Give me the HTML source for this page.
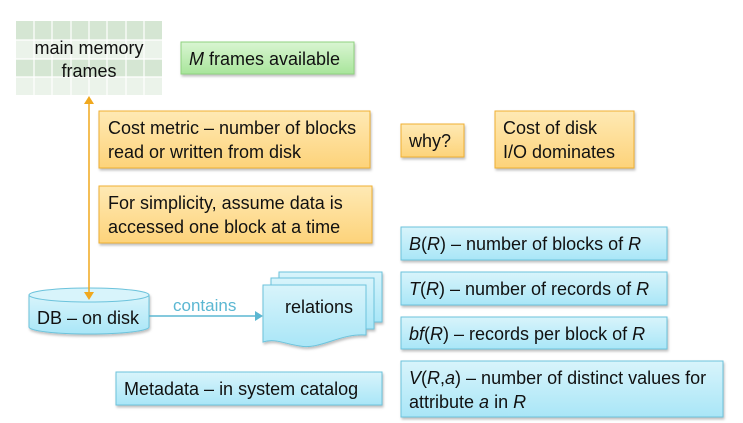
<!DOCTYPE html>
<html><head><meta charset="utf-8"><style>
html,body{margin:0;padding:0;background:#fff;}
svg{display:block;font-family:"Liberation Sans",sans-serif;}
</style></head><body>
<svg width="743" height="423" viewBox="0 0 743 423" xmlns="http://www.w3.org/2000/svg">
<defs>
<linearGradient id="g" x1="0" y1="0" x2="0" y2="1"><stop offset="0" stop-color="#d9f5d2"/><stop offset="1" stop-color="#a8e59b"/></linearGradient>
<linearGradient id="o" x1="0" y1="0" x2="0" y2="1"><stop offset="0" stop-color="#fee9b4"/><stop offset="1" stop-color="#fdd37a"/></linearGradient>
<linearGradient id="b" x1="0" y1="0" x2="0" y2="1"><stop offset="0" stop-color="#d8f4fb"/><stop offset="1" stop-color="#a9e6f7"/></linearGradient>
<filter id="s" x="-10%" y="-10%" width="130%" height="140%"><feDropShadow dx="1" dy="2" stdDeviation="1.2" flood-color="#000" flood-opacity="0.25"/></filter>
</defs>
<!-- grid -->
<g>
<rect x="16" y="21" width="146" height="19" fill="#d5e6d3"/>
<rect x="16" y="40" width="146" height="19" fill="#ebf3ea"/>
<rect x="16" y="59" width="146" height="18" fill="#d5e6d3"/>
<rect x="16" y="77" width="146" height="18" fill="#ebf3ea"/>
<g stroke="#fff" stroke-width="1.2">
<line x1="34" y1="21" x2="34" y2="95"/><line x1="52" y1="21" x2="52" y2="95"/><line x1="71" y1="21" x2="71" y2="95"/><line x1="89" y1="21" x2="89" y2="95"/><line x1="107" y1="21" x2="107" y2="95"/><line x1="126" y1="21" x2="126" y2="95"/><line x1="144" y1="21" x2="144" y2="95"/>
<line x1="16" y1="40" x2="162" y2="40"/><line x1="16" y1="59" x2="162" y2="59"/><line x1="16" y1="77" x2="162" y2="77"/>
</g>
<text x="89" y="54" font-size="18" text-anchor="middle" fill="#111">main memory</text>
<text x="89" y="77" font-size="18" text-anchor="middle" fill="#111">frames</text>
</g>
<!-- green -->
<rect x="181" y="42" width="173" height="32" fill="url(#g)" stroke="#8fd27f" filter="url(#s)"/>
<text x="189" y="65" font-size="18" fill="#111"><tspan font-style="italic">M</tspan> frames available</text>
<!-- orange -->
<g font-size="18" fill="#111">
<rect x="99" y="111" width="271" height="57" fill="url(#o)" stroke="#f0b030" filter="url(#s)"/>
<text x="108" y="134">Cost metric – number of blocks</text>
<text x="108" y="158">read or written from disk</text>
<rect x="401" y="124" width="63" height="33" fill="url(#o)" stroke="#f0b030" filter="url(#s)"/>
<text x="409" y="147">why?</text>
<rect x="495" y="111" width="139" height="57" fill="url(#o)" stroke="#f0b030" filter="url(#s)"/>
<text x="503" y="134">Cost of disk</text>
<text x="503" y="158">I/O dominates</text>
<rect x="99" y="186" width="273" height="57" fill="url(#o)" stroke="#f0b030" filter="url(#s)"/>
<text x="108" y="209">For simplicity, assume data is</text>
<text x="108" y="233">accessed one block at a time</text>
<!-- blue boxes -->
<rect x="401" y="227" width="266" height="33" fill="url(#b)" stroke="#6cc3dc" filter="url(#s)"/>
<text x="409" y="250"><tspan font-style="italic">B</tspan>(<tspan font-style="italic">R</tspan>) – number of blocks of <tspan font-style="italic">R</tspan></text>
<rect x="401" y="272" width="266" height="33" fill="url(#b)" stroke="#6cc3dc" filter="url(#s)"/>
<text x="409" y="295"><tspan font-style="italic">T</tspan>(<tspan font-style="italic">R</tspan>) – number of records of <tspan font-style="italic">R</tspan></text>
<rect x="401" y="317" width="266" height="32" fill="url(#b)" stroke="#6cc3dc" filter="url(#s)"/>
<text x="409" y="340"><tspan font-style="italic">bf</tspan>(<tspan font-style="italic">R</tspan>) – records per block of <tspan font-style="italic">R</tspan></text>
<rect x="401" y="361" width="322" height="56" fill="url(#b)" stroke="#6cc3dc" filter="url(#s)"/>
<text x="409" y="384"><tspan font-style="italic">V</tspan>(<tspan font-style="italic">R</tspan>,<tspan font-style="italic">a</tspan>) – number of distinct values for</text>
<text x="409" y="408">attribute <tspan font-style="italic">a</tspan> in <tspan font-style="italic">R</tspan></text>
<rect x="116" y="372" width="266" height="33" fill="url(#b)" stroke="#6cc3dc" filter="url(#s)"/>
<text x="124" y="395">Metadata – in system catalog</text>
</g>
<!-- cylinder -->
<g filter="url(#s)">
<path d="M29,295 L29,327 A60,7 0 0 0 149,327 L149,295 Z" fill="url(#b)" stroke="#6cc3dc"/>
<ellipse cx="89" cy="295" rx="60" ry="7" fill="#d8f4fb" stroke="#6cc3dc"/>
</g>
<text x="37" y="324" font-size="18" fill="#111">DB – on disk</text>
<!-- arrow -->
<line x1="89" y1="104" x2="89" y2="292" stroke="#f0a81e" stroke-width="1.5"/>
<polygon points="84,104 94,104 89,96" fill="#f0a81e"/>
<polygon points="84,292 94,292 89,300" fill="#f0a81e"/>
<!-- contains -->
<line x1="149" y1="316" x2="256" y2="316" stroke="#5bb7d2" stroke-width="1.5"/>
<polygon points="255,311 263,316 255,321" fill="#5bb7d2"/>
<text x="173" y="311" font-size="17" fill="#5bb7d2">contains</text>
<!-- relations -->
<g stroke="#6cc3dc" filter="url(#s)">
<path d="M279,272 L382,272 L382,322 L279,322 Z" fill="url(#b)"/>
<path d="M271,278 L374,278 L374,329 L271,329 Z" fill="url(#b)"/>
<path d="M263,285 L366,285 L366,335 C340,333 320,350 300,346 C285,344 275,338 263,342 Z" fill="url(#b)"/>
</g>
<text x="285" y="313" font-size="18" fill="#111">relations</text>
</svg>
</body></html>
